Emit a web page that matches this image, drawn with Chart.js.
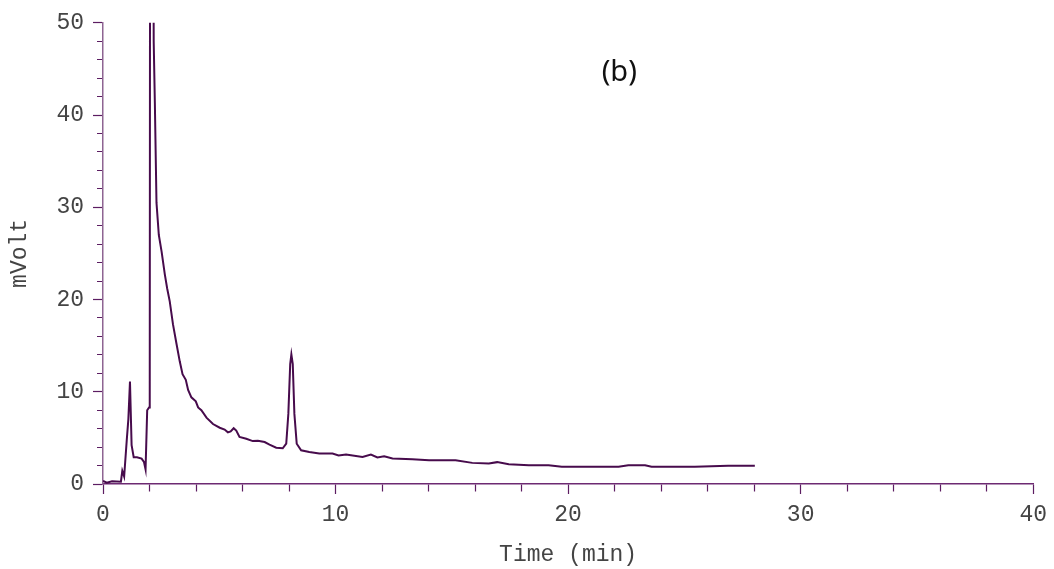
<!DOCTYPE html>
<html>
<head>
<meta charset="utf-8">
<script src="https://cdn.jsdelivr.net/npm/chart.js@4/dist/chart.umd.min.js"></script>
<style>
  html, body { margin: 0; padding: 0; background: #fff; }
  #wrap { width: 1054px; height: 569px; }
</style>
</head>
<body>
<div id="wrap"><canvas id="chromChart" width="1054" height="569"></canvas></div>
<script>
// retention time (min) and detector signal (mVolt)
const timeMin = [
  0.00, 0.16, 0.39, 0.77, 0.83, 0.91, 1.02, 1.09, 1.16, 1.23, 1.32, 1.46, 1.66, 1.76, 1.83,
  1.90, 1.98, 2.01, 2.04, 2.12, 2.18, 2.23, 2.30, 2.40, 2.52, 2.66, 2.76, 2.87, 3.01, 3.16,
  3.30, 3.42, 3.56, 3.66, 3.80, 3.99, 4.09, 4.23, 4.45, 4.73, 5.02, 5.23, 5.37, 5.49, 5.62,
  5.73, 5.87, 6.16, 6.44, 6.66, 6.95, 7.16, 7.45, 7.73, 7.88, 7.97, 8.05, 8.10, 8.16, 8.23,
  8.33, 8.52, 8.87, 9.30, 9.87, 10.13, 10.45, 11.16, 11.52, 11.80, 12.09, 12.45, 13.30, 14.02,
  15.16, 15.88, 16.59, 16.95, 17.45, 18.31, 19.16, 19.73, 21.17, 22.17, 22.59, 23.31, 23.59,
  25.45, 26.88, 28.03
];
const signalMv = [
  0.35, 0.15, 0.30, 0.25, 1.43, 0.80, 4.70, 7.00, 11.10, 4.20, 2.90, 2.90, 2.75, 2.40, 1.58,
  8.00, 8.30, 8.60, 130.0, 130.0, 48.0, 41.3, 30.5, 27.0, 25.2, 22.7, 21.2, 19.8, 17.3, 15.2,
  13.3, 11.9, 11.3, 10.2, 9.40, 8.96, 8.30, 8.00, 7.20, 6.50, 6.10, 5.90, 5.60, 5.70, 6.05,
  5.80, 5.10, 4.90, 4.65, 4.70, 4.55, 4.27, 3.94, 3.87, 4.37, 7.60, 13.0, 14.05, 13.0, 7.60,
  4.37, 3.66, 3.47, 3.30, 3.30, 3.10, 3.20, 2.94, 3.20, 2.87, 3.00, 2.76, 2.69, 2.58,
  2.58, 2.29, 2.22, 2.37, 2.15, 2.04, 2.04, 1.86, 1.86, 1.86, 2.04, 2.04, 1.86,
  1.86, 1.97, 1.97
];
const xTickLabels = [0, 10, 20, 30, 40];
const yTickLabels = [0, 10, 20, 30, 40, 50];
const panelLabel = '(b)';

const points = timeMin.map((t, i) => ({ x: t, y: signalMv[i] }));

const monoFont = { family: "'Liberation Mono', 'Courier New', monospace", size: 23 };
const isMajor = (list) => (ctx) => list.includes(ctx.tick.value);

// panel letter placed in data space
const panelLabelPlugin = {
  id: 'panelLabel',
  afterDraw(chart) {
    const { ctx, scales } = chart;
    ctx.save();
    ctx.font = "29px 'Noto Sans', sans-serif";
    ctx.fillStyle = '#111';
    ctx.textAlign = 'center';
    ctx.textBaseline = 'middle';
    ctx.fillText(panelLabel, scales.x.getPixelForValue(22.2), scales.y.getPixelForValue(44.6));
    ctx.restore();
  }
};

new Chart(document.getElementById('chromChart'), {
  type: 'line',
  data: {
    datasets: [{
      data: points,
      borderColor: '#470b4c',
      borderWidth: 2,
      pointRadius: 0,
      tension: 0,
      fill: false
    }]
  },
  options: {
    responsive: false,
    animation: false,
    layout: { padding: { top: 19, right: 18, left: 0, bottom: 0 } },
    plugins: { legend: { display: false }, tooltip: { enabled: false } },
    scales: {
      x: {
        type: 'linear',
        min: 0, max: 40,
        afterFit: (s) => { s.height = 85; },
        border: { color: '#6d2a72', width: 1.5 },
        grid: {
          drawOnChartArea: false,
          drawTicks: true,
          tickLength: 10,
          tickColor: '#5c1d62',
          tickWidth: 1.2,
          tickBorderDash: (ctx) => isMajor(xTickLabels)(ctx) ? [] : [7, 20]
        },
        ticks: {
          stepSize: 2,
          autoSkip: false,
          maxRotation: 0,
          padding: 7,
          color: '#444',
          font: monoFont,
          callback: (v) => xTickLabels.includes(v) ? String(v) : ''
        },
        title: {
          display: true,
          text: 'Time (min)',
          color: '#444',
          font: monoFont,
          padding: { top: 0, bottom: 0 }
        }
      },
      y: {
        type: 'linear',
        min: 0, max: 50,
        afterFit: (s) => { s.width = 103; },
        border: { color: '#8e6492', width: 1.5 },
        grid: {
          drawOnChartArea: false,
          drawTicks: true,
          tickLength: 10,
          tickColor: '#5c1d62',
          tickWidth: 1.2,
          tickBorderDash: (ctx) => isMajor(yTickLabels)(ctx) ? [] : [0, 4, 6, 10]
        },
        ticks: {
          stepSize: 2,
          autoSkip: false,
          padding: 9,
          color: '#444',
          font: monoFont,
          callback: (v) => yTickLabels.includes(v) ? String(v) : ''
        },
        title: {
          display: true,
          text: 'mVolt',
          color: '#444',
          font: monoFont,
          padding: { top: 6, bottom: 0 }
        }
      }
    }
  },
  plugins: [panelLabelPlugin]
});
</script>
</body>
</html>
